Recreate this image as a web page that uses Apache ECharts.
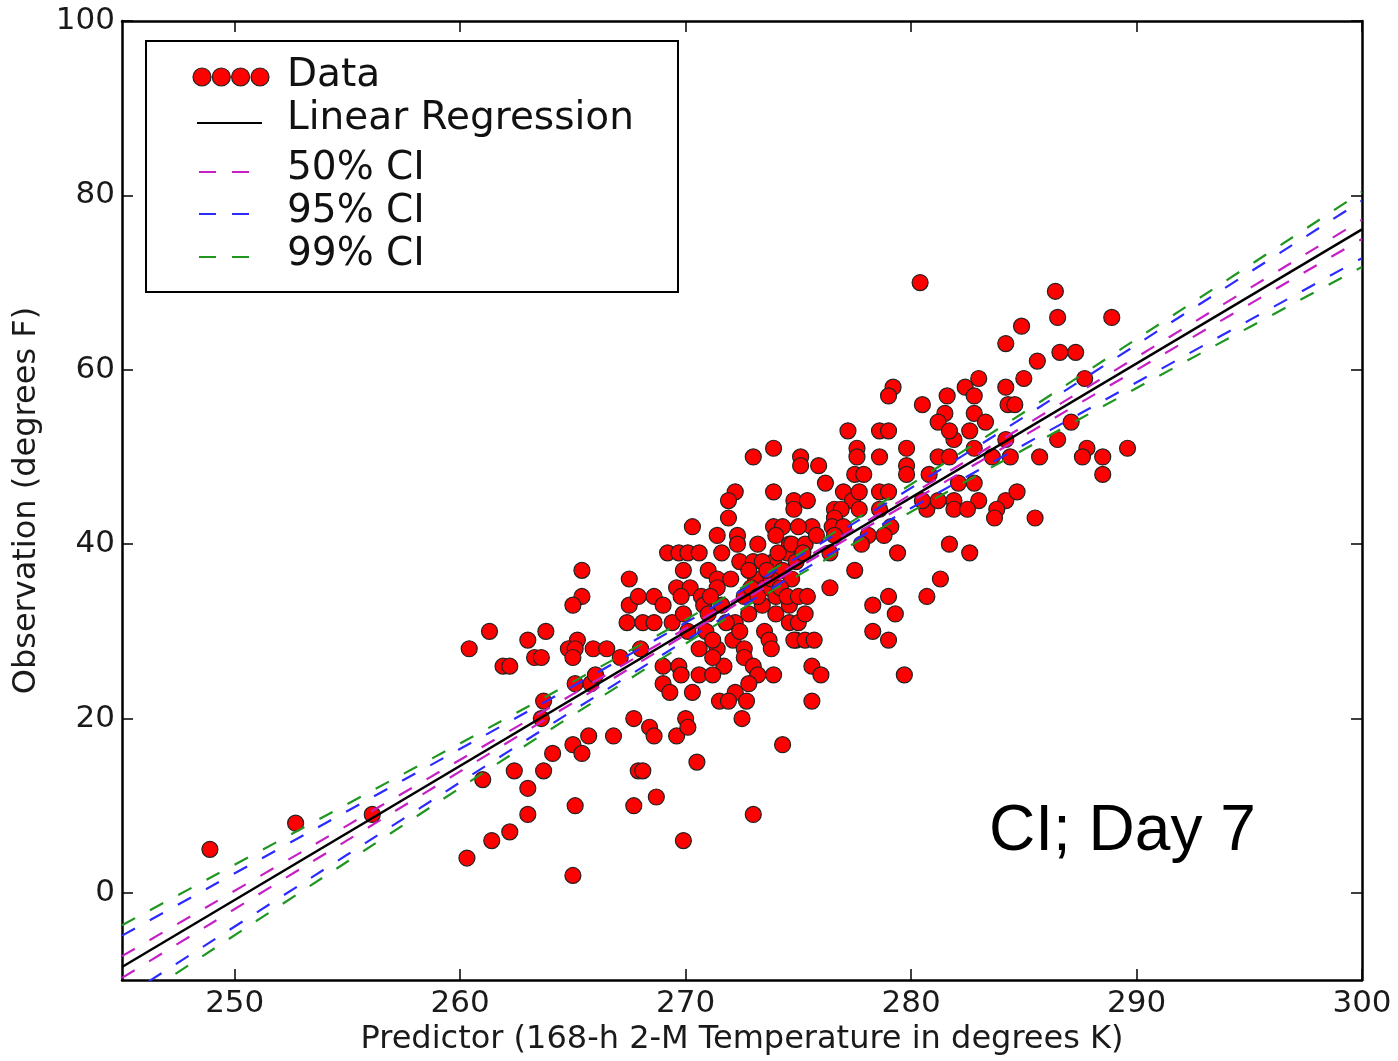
<!DOCTYPE html>
<html>
<head>
<meta charset="utf-8">
<script src="https://cdn.jsdelivr.net/npm/echarts@6/dist/echarts.min.js"></script>
<style>
html,body{margin:0;padding:0;background:#fff;}
#chart{width:1398px;height:1061px;}
</style>
</head>
<body>
<div id="chart"></div>
<script>
// ---- data ----
const obsX = [
248.9,252.7,256.1,
265.4,267.5,265.4,265.0,267.5,267.4,261.3,263.8,260.4,263.0,265.2,264.8,265.1,265.9,266.5,261.9,262.2,263.3,263.6,265.0,267.1,265.1,265.8,266.0,263.7,263.6,267.7,265.7,266.8,265.0,265.4,264.1,261.0,262.4,263.7,263.0,267.9,265.1,267.7,263.0,262.2,261.4,260.3,265.0,
268.1,268.6,269.4,270.1,268.0,269.0,269.7,270.6,269.0,269.3,270.3,269.8,271.4,272.2,272.1,272.8,273.5,274.0,273.7,274.6,274.9,272.6,273.8,271.7,272.6,273.0,271.2,273.2,273.9,272.2,272.8,271.5,271.9,272.7,272.5,268.4,268.6,269.6,270.0,270.1,274.3,268.1,270.5,268.7,273.0,269.9,
273.0,273.9,275.1,275.1,272.2,271.9,273.9,274.8,274.8,271.9,270.3,271.4,272.3,272.3,273.2,273.9,274.3,274.0,274.6,269.2,269.7,270.1,270.6,271.6,272.4,273.0,273.9,269.9,271.0,271.4,269.6,270.2,270.7,271.4,267.9,268.6,269.0,269.8,269.9,271.6,272.6,273.1,273.4,273.5,274.0,274.3,274.5,274.6,274.7,274.9,270.9,270.6,271.2,
272.8,273.4,273.8,274.2,272.9,273.2,274.5,270.8,271.0,271.8,271.2,272.0,273.6,274.1,272.4,271.1,
279.2,279.0,280.5,281.6,281.5,281.2,281.9,281.7,277.2,278.6,279.0,277.6,277.6,278.6,279.8,279.8,279.8,281.2,281.7,277.5,277.9,275.9,276.2,280.8,277.0,277.4,277.7,278.6,279.0,275.4,276.6,276.9,277.7,278.6,280.7,281.2,281.9,281.9,276.6,275.6,276.5,277.0,279.1,275.0,274.7,275.3,275.8,276.6,278.1,278.8,281.7,279.4,
277.8,277.5,276.4,281.3,280.7,279.0,278.3,279.3,278.3,279.0,275.6,276.0,279.7,275.6,274.8,275.3,275.7,275.0,275.4,275.0,276.4,275.3,275.2,
280.4,286.4,286.5,288.9,284.9,284.2,286.6,287.3,285.6,285.0,287.7,283.0,282.4,284.2,282.8,284.3,284.6,282.8,283.3,282.6,287.1,282.8,284.2,286.5,287.8,289.6,283.6,284.4,285.7,287.6,288.5,282.1,282.8,280.5,283.0,284.2,284.7,282.5,283.8,283.7,285.5,288.5,282.6
];
const obsY = [
5,8,9,
37,36,34,33,33,31,30,30,28,29,29,28,28,28,28,26,26,27,27,27,27,24,24,25,22,20,20,18,18,17,16,16,13,14,14,12,14,10,10,9,7,6,4,2,
31,31,31,30,28,26,26,25,24,23,23,25,28,31,29,32,30,32,29,31,29,28,28,26,27,26,25,25,25,23,24,22,22,22,20,19,18,18,20,19,17,14,15,11,9,6,
50,51,50,49,46,45,46,45,44,43,42,41,41,40,40,42,42,41,40,39,39,39,39,39,38,38,38,37,37,36,35,35,34,35,34,34,33,34,32,33,34,36,33,35,34,37,39,33,36,38,30,28,27,
37,38,36,35,35,34,34,33,32,31,29,36,37,39,30,34,
58,57,56,57,55,54,52,53,53,53,53,51,50,50,51,49,48,50,50,48,48,49,47,48,46,45,46,46,46,45,44,44,44,44,44,45,45,44,43,42,42,42,42,42,40,40,41,41,41,41,40,39,
40,37,35,36,34,34,33,32,30,29,26,25,25,22,29,29,29,34,34,31,39,32,39,
70,69,66,66,65,63,62,62,61,59,59,59,58,58,57,56,56,55,54,53,54,51,52,52,51,51,50,50,50,50,50,47,47,45,45,45,46,44,44,43,43,48,39
];

const regX = [245, 300];
const regY = [-8.5, 76.1];

const ciX     = [245, 255, 265, 274, 283, 292, 300];
const ci50Up  = [-7.25, 7.75, 22.8, 36.4, 50.4, 64.6, 77.2];
const ci50Lo  = [-9.75, 6.05, 21.8, 35.8, 49.4, 63.0, 75.0];
const ci95Up  = [-4.9, 9.4, 23.7, 37.0, 51.3, 66.2, 79.4];
const ci95Lo  = [-12.1, 4.4, 20.9, 35.2, 48.5, 61.4, 72.8];
const ci99Up  = [-3.7, 10.2, 24.2, 37.3, 51.8, 66.9, 80.4];
const ci99Lo  = [-13.3, 3.6, 20.4, 34.9, 48.0, 60.7, 71.8];

const xTicks = [250, 260, 270, 280, 290, 300];
const yTicks = [0, 20, 40, 60, 80, 100];

// ---- styling ----
const C50 = '#c51fc5', C95 = '#2b2bff', C99 = '#1f961f';
const FONT = 'DejaVu Sans';
const zip = (xs, ys) => xs.map((x, i) => [x, ys[i]]);
const dash = [15, 17];

function ciSeries(name, ys, color) {
  return {
    name: name, type: 'line', data: zip(ciX, ys), smooth: 0.35,
    showSymbol: false, symbol: 'none', z: 5, silent: true,
    lineStyle: { color: color, width: 2.2, type: dash }
  };
}

const axisTextStyle = { fontFamily: FONT, fontSize: 31, color: '#1a1a1a' };
const titleStyle = { fontFamily: FONT, fontSize: 32, color: '#1a1a1a' };

const chart = echarts.init(document.getElementById('chart'), null, { renderer: 'canvas' });
chart.setOption({
  animation: false,
  backgroundColor: '#fff',
  grid: { left: 122, right: 36, top: 21, bottom: 78, containLabel: false },
  xAxis: [
    {
      type: 'value', min: 245, max: 300, position: 'bottom',
      name: 'Predictor (168-h 2-M Temperature in degrees K)',
      nameLocation: 'middle', nameGap: 42,
      nameTextStyle: titleStyle,
      axisLine: { show: true, onZero: false, lineStyle: { color: '#000', width: 2.5 } },
      axisTick: { show: true, inside: true, length: 11, customValues: xTicks, lineStyle: { color: '#000', width: 1.5 } },
      axisLabel: Object.assign({ show: true, margin: 8, customValues: xTicks }, axisTextStyle),
      splitLine: { show: false }
    },
    {
      type: 'value', min: 245, max: 300, position: 'top',
      axisLine: { show: true, onZero: false, lineStyle: { color: '#000', width: 2.5 } },
      axisTick: { show: true, inside: true, length: 11, customValues: xTicks, lineStyle: { color: '#000', width: 1.5 } },
      axisLabel: { show: false },
      splitLine: { show: false }
    }
  ],
  yAxis: [
    {
      type: 'value', min: -10, max: 100, position: 'left',
      name: 'Observation (degrees F)',
      nameLocation: 'middle', nameGap: 79, nameRotate: 90,
      nameTextStyle: titleStyle,
      axisLine: { show: true, onZero: false, lineStyle: { color: '#000', width: 2.5 } },
      axisTick: { show: true, inside: true, length: 11, customValues: yTicks, lineStyle: { color: '#000', width: 1.5 } },
      axisLabel: Object.assign({ show: true, margin: 7, customValues: yTicks }, axisTextStyle),
      splitLine: { show: false }
    },
    {
      type: 'value', min: -10, max: 100, position: 'right',
      axisLine: { show: true, onZero: false, lineStyle: { color: '#000', width: 2.5 } },
      axisTick: { show: true, inside: true, length: 11, customValues: yTicks, lineStyle: { color: '#000', width: 1.5 } },
      axisLabel: { show: false },
      splitLine: { show: false }
    }
  ],
  series: [
    {
      name: 'Data', type: 'scatter', data: zip(obsX, obsY),
      symbol: 'circle', symbolSize: 16, z: 2, silent: true,
      itemStyle: { color: '#ff0000', borderColor: '#222', borderWidth: 1.2, opacity: 1 }
    },
    ciSeries('50% CI up', ci50Up, C50),
    ciSeries('50% CI lo', ci50Lo, C50),
    ciSeries('95% CI up', ci95Up, C95),
    ciSeries('95% CI lo', ci95Lo, C95),
    ciSeries('99% CI up', ci99Up, C99),
    ciSeries('99% CI lo', ci99Lo, C99),
    {
      name: 'Linear Regression', type: 'line', data: zip(regX, regY),
      showSymbol: false, symbol: 'none', z: 6, silent: true,
      lineStyle: { color: '#000', width: 2.4 }
    }
  ],
  graphic: [
    { type: 'rect', z: 100, shape: { x: 146, y: 41, width: 532, height: 251 },
      style: { fill: '#fff', stroke: '#000', lineWidth: 2 } },
    { type: 'circle', z: 101, shape: { cx: 202, cy: 77, r: 9 }, style: { fill: '#ff0000', stroke: '#222', lineWidth: 1.2 } },
    { type: 'circle', z: 101, shape: { cx: 221.3, cy: 77, r: 9 }, style: { fill: '#ff0000', stroke: '#222', lineWidth: 1.2 } },
    { type: 'circle', z: 101, shape: { cx: 240.6, cy: 77, r: 9 }, style: { fill: '#ff0000', stroke: '#222', lineWidth: 1.2 } },
    { type: 'circle', z: 101, shape: { cx: 260, cy: 77, r: 9 }, style: { fill: '#ff0000', stroke: '#222', lineWidth: 1.2 } },
    { type: 'text', z: 101, x: 287, y: 76, style: { text: 'Data', fontFamily: FONT, fontSize: 39, fill: '#111', verticalAlign: 'middle' } },
    { type: 'line', z: 101, shape: { x1: 197, y1: 123, x2: 262, y2: 123 }, style: { stroke: '#000', lineWidth: 2 } },
    { type: 'text', z: 101, x: 287, y: 119, style: { text: 'Linear Regression', fontFamily: FONT, fontSize: 39, fill: '#111', verticalAlign: 'middle' } },
    { type: 'line', z: 101, shape: { x1: 199, y1: 172, x2: 252, y2: 172 }, style: { stroke: C50, lineWidth: 2.2, lineDash: [17, 16] } },
    { type: 'text', z: 101, x: 287, y: 169, style: { text: '50% CI', fontFamily: FONT, fontSize: 39, fill: '#111', verticalAlign: 'middle' } },
    { type: 'line', z: 101, shape: { x1: 199, y1: 214, x2: 252, y2: 214 }, style: { stroke: C95, lineWidth: 2.2, lineDash: [17, 16] } },
    { type: 'text', z: 101, x: 287, y: 212, style: { text: '95% CI', fontFamily: FONT, fontSize: 39, fill: '#111', verticalAlign: 'middle' } },
    { type: 'line', z: 101, shape: { x1: 199, y1: 257, x2: 252, y2: 257 }, style: { stroke: C99, lineWidth: 2.2, lineDash: [17, 16] } },
    { type: 'text', z: 101, x: 287, y: 255, style: { text: '99% CI', fontFamily: FONT, fontSize: 39, fill: '#111', verticalAlign: 'middle' } },
    { type: 'text', z: 101, x: 989, y: 832, style: { text: 'CI; Day 7', fontFamily: 'Liberation Sans', fontSize: 64, fill: '#000', verticalAlign: 'middle' } }
  ]
});
</script>
</body>
</html>
